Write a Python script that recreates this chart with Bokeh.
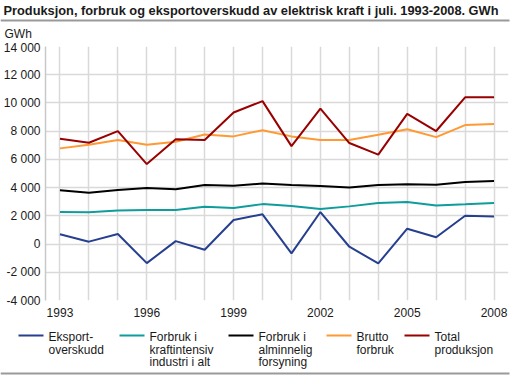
from bokeh.plotting import figure
from bokeh.layouts import column
from bokeh.models import Range1d, FixedTicker
from bokeh.core.properties import value
from bokeh.embed import file_html
from bokeh.resources import INLINE

# ---------------- data ----------------
years = list(range(1993, 2009))
eksport = [690, 170, 710, -1350, 210, -400, 1700, 2110, -660, 2270, -190, -1370, 1090, 480, 2010, 1960]
kraftintensiv = [2270, 2250, 2370, 2410, 2410, 2650, 2550, 2830, 2700, 2480, 2670, 2910, 2980, 2740, 2820, 2910]
alminnelig = [3810, 3640, 3830, 3970, 3880, 4180, 4140, 4290, 4180, 4110, 4000, 4180, 4230, 4210, 4400, 4470]
brutto = [6780, 7040, 7370, 7040, 7250, 7770, 7630, 8070, 7630, 7370, 7370, 7750, 8140, 7580, 8430, 8500]
total = [7460, 7180, 8000, 5670, 7420, 7370, 9320, 10130, 6940, 9600, 7160, 6340, 9230, 8010, 10400, 10400]

series_labels = [
    ["Eksport-", "overskudd"],
    ["Forbruk i", "kraftintensiv", "industri i alt"],
    ["Forbruk i", "alminnelig", "forsyning"],
    ["Brutto", "forbruk"],
    ["Total", "produksjon"],
]
y_ticks = list(range(-4000, 14001, 2000))
x_label_ticks = [1993, 1996, 1999, 2002, 2005, 2008]
title_text = "Produksjon, forbruk og eksportoverskudd av elektrisk kraft i juli. 1993-2008. GWh"
unit_text = "GWh"

# ---------------- style ----------------
colors = ["#263f8f", "#0f9c9c", "#000000", "#ff9933", "#990000"]
FONT = value("Liberation Sans")
W = 512
GRID = "#d9d9d9"
TXT = "#1a1a1a"
RULE = "#9a9a9a"

# ---------------- title figure ----------------
TH = 40
t = figure(width=W, height=TH, x_range=Range1d(0, W), y_range=Range1d(TH, 0),
           x_axis_type=None, y_axis_type=None, min_border=0, frame_align=False,
           output_backend="svg", toolbar_location=None)
t.outline_line_color = None
t.grid.visible = False
t.text(x=[3], y=[10], text=[title_text], text_font=FONT, text_font_size="12.8px",
       text_font_style="bold", text_baseline="middle", text_align="left", text_color=TXT)
t.segment(x0=[0], y0=[20], x1=[509], y1=[20], line_color=RULE, line_width=2)
t.text(x=[4], y=[33.5], text=[unit_text], text_font=FONT, text_font_size="12px",
       text_baseline="middle", text_align="left", text_color=TXT)

# ---------------- main figure ----------------
p = figure(width=W, height=282, x_range=Range1d(1992.5, 2008.5), y_range=Range1d(-4000, 14000),
           output_backend="svg", toolbar_location=None, frame_align=False,
           min_border_left=45, min_border_right=4, min_border_top=6, min_border_bottom=22)
p.outline_line_color = None
p.background_fill_color = "white"

p.xaxis.ticker = FixedTicker(ticks=x_label_ticks)
p.xgrid.ticker = FixedTicker(ticks=years)
p.yaxis.ticker = FixedTicker(ticks=y_ticks)
p.ygrid.ticker = FixedTicker(ticks=y_ticks)
p.yaxis.major_label_overrides = {v: f"{v:,}".replace(",", " ") for v in y_ticks}

for ax in (p.xaxis, p.yaxis):
    ax.major_tick_line_color = None
    ax.minor_tick_line_color = None
    ax.major_tick_out = 0
    ax.major_tick_in = 0
    ax.major_label_text_font = "Liberation Sans"
    ax.major_label_text_font_size = "12px"
    ax.major_label_text_color = TXT
p.yaxis.major_label_standoff = 5
p.xaxis.major_label_standoff = 7
p.xaxis.axis_line_color = None
p.yaxis.axis_line_color = "#c8c8c8"
p.yaxis.axis_line_width = 1.5

for g in (p.xgrid, p.ygrid):
    g.grid_line_color = GRID
    g.grid_line_width = 1.5

for ser, c in zip([eksport, kraftintensiv, alminnelig, brutto, total], colors):
    p.line(years, ser, line_color=c, line_width=2)

# ---------------- legend figure ----------------
LH = 54
lg = figure(width=W, height=LH, x_range=Range1d(0, W), y_range=Range1d(LH, 0),
            x_axis_type=None, y_axis_type=None, min_border=0, frame_align=False,
            output_backend="svg", toolbar_location=None)
lg.outline_line_color = None
lg.grid.visible = False
item_x = [18, 119, 228, 326, 404]
for lbl, c, x0 in zip(series_labels, colors, item_x):
    lg.segment(x0=[x0], y0=[13], x1=[x0 + 25], y1=[13], line_color=c, line_width=2)
    ys = [14.5 + 12.5 * i for i in range(len(lbl))]
    lg.text(x=[x0 + 30] * len(lbl), y=ys, text=lbl, text_font=FONT, text_font_size="12px",
            text_baseline="middle", text_align="left", text_color=TXT)
lg.segment(x0=[0], y0=[51], x1=[509], y1=[51], line_color=RULE, line_width=2)

layout = column(t, p, lg)
open("out.html", "w").write(file_html(layout, INLINE))
